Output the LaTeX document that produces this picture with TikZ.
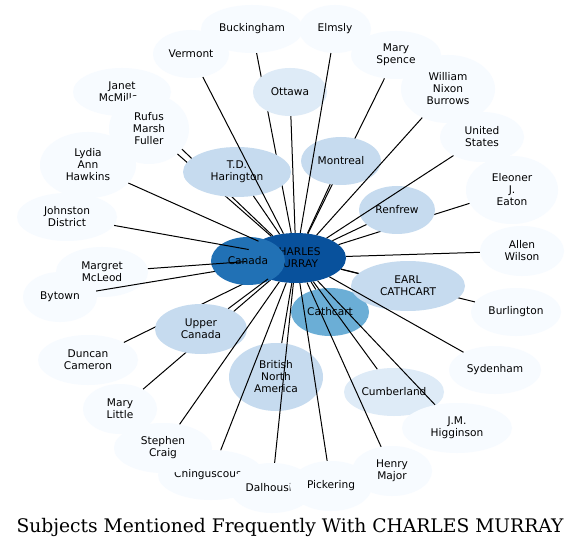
\documentclass[tikz,border=0pt]{standalone}
\usepackage{fontspec}
\setmainfont{DejaVu Sans}
\newfontfamily\titlefont{DejaVu Serif}
\usetikzlibrary{shapes.geometric}
\definecolor{cA}{HTML}{F7FBFF}
\definecolor{cB}{HTML}{DEEBF7}
\definecolor{cC}{HTML}{C6DBEF}
\definecolor{cD}{HTML}{6BAED6}
\definecolor{cE}{HTML}{2171B5}
\definecolor{cF}{HTML}{08519C}
\begin{document}
\begin{tikzpicture}[x=1pt,y=-1pt,
  nd/.style={ellipse, inner sep=0pt, align=center, font=\fontsize{10.6}{12}\selectfont, text=black},
  sz/.style 2 args={minimum width=#1pt, minimum height=#2pt},
  outer/.style={nd, fill=cA},
  lite/.style={nd, fill=cB},
  mid/.style={nd, fill=cC},
  link/.style={draw=black, line width=1pt}]
\fill[white] (0,0) rectangle (581,548);
\useasboundingbox (0,0) rectangle (581,548);
% centre
\node[nd, fill=cF, sz={100}{50}] (cm) at (296,258) {CHARLES\\MURRAY};
% outer nodes
\node[outer, sz={102}{48}] (buck) at (252,29) {Buckingham};
\node[outer, sz={76}{48}] (verm) at (191,54) {Vermont};
\node[outer, sz={72}{48}] (elms) at (335,29) {Elmsly};
\node[outer, sz={90}{48}] (mspe) at (396,55) {Mary\\Spence};
\node[outer, sz={94}{68}] (wnb) at (448,89) {William\\Nixon\\Burrows};
\node[outer, sz={84}{50}] (us) at (482,137) {United\\States};
\node[outer, sz={92}{68}] (eleo) at (512,190) {Eleoner\\J.\\Eaton};
\node[outer, sz={84}{50}] (allen) at (522,251) {Allen\\Wilson};
\node[outer, sz={90}{48}] (burl) at (516,312) {Burlington};
\node[outer, sz={92}{48}] (syd) at (495,370) {Sydenham};
\node[outer, sz={80}{50}] (henry) at (392,471) {Henry\\Major};
\node[outer, sz={106}{50}] (ching) at (211,475) {Chinguscousy};
\node[outer, sz={98}{50}] (steph) at (163,448) {Stephen\\Craig};
\node[outer, sz={84}{50}] (dalh) at (272,488) {Dalhousie};
\node[outer, sz={82}{50}] (pick) at (331,486) {Pickering};
\node[outer, sz={74}{50}] (mlit) at (120,409) {Mary\\Little};
\node[outer, sz={100}{50}] (dunc) at (88,360) {Duncan\\Cameron};
\node[outer, sz={74}{50}] (byt) at (60,297) {Bytown};
\node[outer, sz={92}{50}] (marg) at (102,272) {Margret\\McLeod};
\node[outer, sz={100}{48}] (john) at (67,217) {Johnston\\District};
\node[outer, sz={96}{66}] (lydia) at (88,165) {Lydia\\Ann\\Hawkins};
\node[outer, sz={98}{48}] (janet) at (122,92) {Janet\\McMillan};
\draw[link] (janet) -- (cm);
\node[outer, sz={80}{70}] (rufus) at (149,129) {Rufus\\Marsh\\Fuller};
\draw[link] (rufus) -- (cm);
% edges hidden under middle nodes
\draw[link] (byt) -- (cm);
\draw[link] (buck) -- (cm);
\draw[link] (mspe) -- (cm);
\draw[link] (eleo) -- (cm);
\draw[link] (burl) -- (cm);
\draw[link] (dunc) -- (cm);
\draw[link] (mlit) -- (cm);
% middle nodes
\node[nd, fill=cE, sz={74}{48}] (can) at (248,261) {Canada};
\node[nd, fill=cD, sz={78}{48}] (cath) at (330,312) {Cathcart};
\node[mid, sz={108}{50}] (td) at (237,172) {T.D.\\Harington};
\node[mid, sz={80}{48}] (mont) at (341,161) {Montreal};
\node[mid, sz={76}{48}] (renf) at (397,210) {Renfrew};
\node[lite, sz={74}{48}] (ott) at (290,92) {Ottawa};
\node[mid, sz={114}{50}] (earl) at (408,286) {EARL\\CATHCART};
\node[mid, sz={94}{68}] (bna) at (276,377) {British\\North\\America};
\node[mid, sz={92}{50}] (upc) at (201,329) {Upper\\Canada};
\node[lite, sz={100}{48}] (cumb) at (394,392) {Cumberland};
\node[outer, sz={110}{50}] (jm) at (457,428) {J.M.\\Higginson};
% edges on top
\draw[link] (verm) -- (cm);
\draw[link] (elms) -- (cm);
\draw[link] (ott) -- (cm);
\draw[link] (mont) -- (cm);
\draw[link] (wnb) -- (cm);
\draw[link] (us) -- (cm);
\draw[link] (renf) -- (cm);
\draw[link] (allen) -- (cm);
\draw[link] (earl) -- (cm);
\draw[link] (syd) -- (cm);
\draw[link] (jm) -- (cm);
\draw[link] (cumb) -- (cm);
\draw[link] (henry) -- (cm);
\draw[link] (cath) -- (cm);
\draw[link] (pick) -- (cm);
\draw[link] (dalh) -- (cm);
\draw[link] (bna) -- (cm);
\draw[link] (ching) -- (cm);
\draw[link] (steph) -- (cm);
\draw[link] (upc) -- (cm);
\draw[link] (marg) -- (cm);
\draw[link] (john) -- (cm);
\draw[link] (lydia) -- (cm);
\draw[link] (td) -- (cm);
% title
\node[font=\titlefont\fontsize{18.7}{21}\selectfont] (title) at (290,527) {Subjects Mentioned Frequently With CHARLES MURRAY};
\end{tikzpicture}
\end{document}
